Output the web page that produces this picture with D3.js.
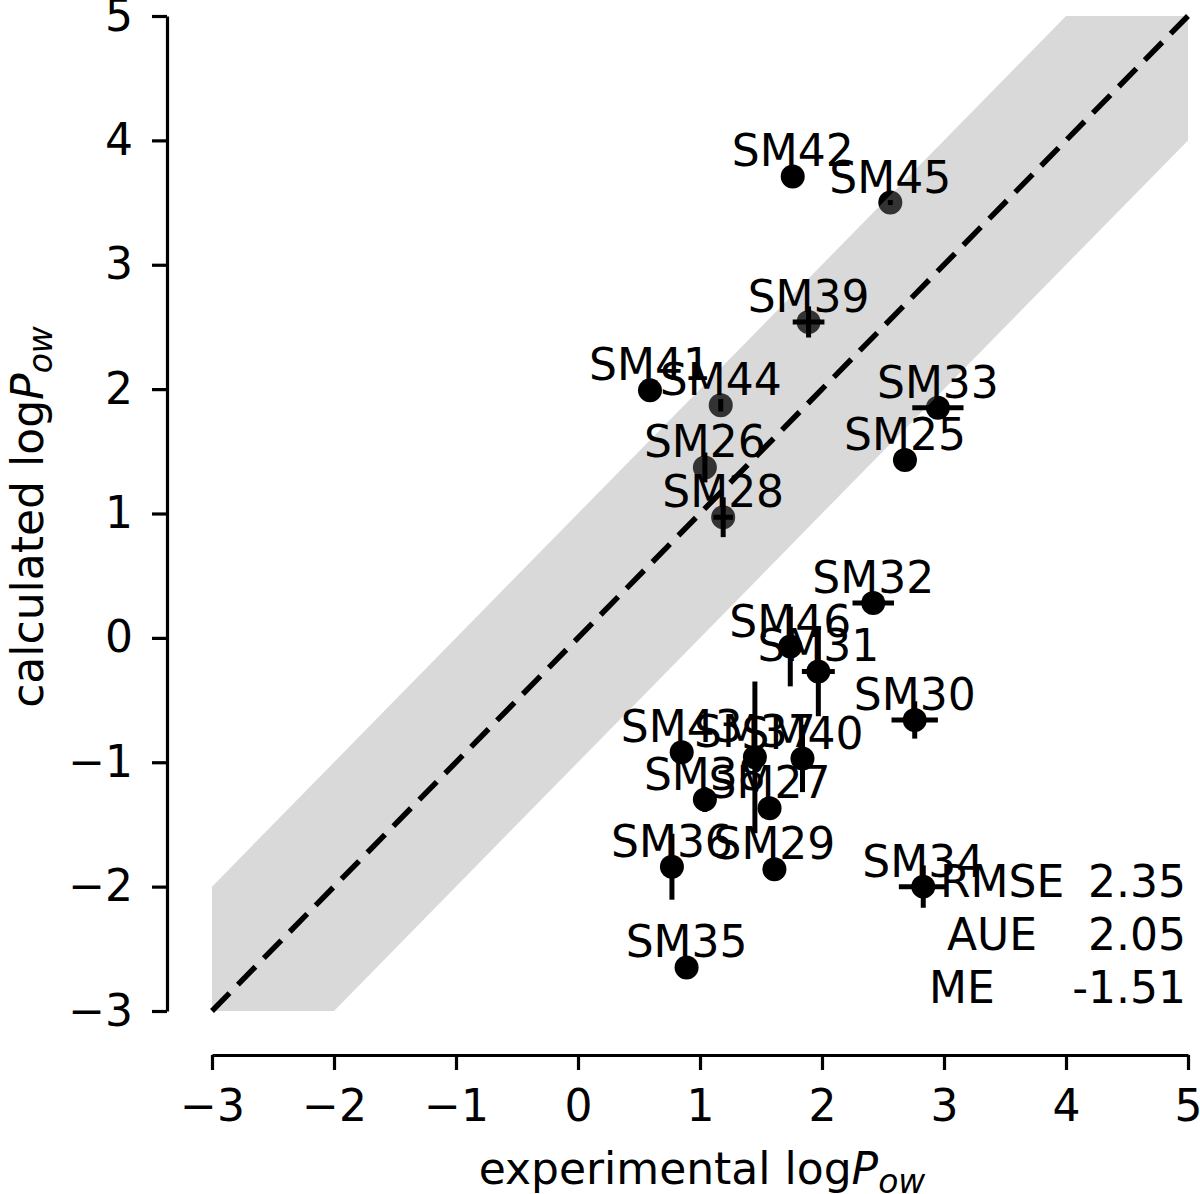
<!DOCTYPE html>
<html>
<head>
<meta charset="utf-8">
<script src="https://cdn.jsdelivr.net/npm/d3@7"></script>
<style>
  html, body { margin: 0; padding: 0; background: #fff; }
  svg { display: block; }
  text { font-family: "DejaVu Sans", sans-serif; fill: #000; }
</style>
</head>
<body>
<svg id="chart" width="1200" height="1194"></svg>
<script>
// ---- data ----
const names = ["SM25","SM26","SM27","SM28","SM29","SM30","SM31","SM32","SM33","SM34","SM35","SM36","SM37","SM38","SM39","SM40","SM41","SM42","SM43","SM44","SM45","SM46"];
const expVals  = [2.68, 1.04, 1.57, 1.19, 1.61, 2.76, 1.97, 2.42, 2.95, 2.83, 0.89, 0.77, 1.45, 1.04, 1.89, 1.84, 0.59, 1.76, 0.85, 1.17, 2.56, 1.74];
const calcVals = [1.43, 1.37, -1.37, 0.97, -1.86, -0.66, -0.27, 0.28, 1.85, -2.00, -2.65, -1.84, -0.96, -1.30, 2.54, -0.97, 1.99, 3.71, -0.92, 1.87, 3.50, -0.07];
const expErr   = [0.00, 0.00, 0.00, 0.08, 0.00, 0.19, 0.135, 0.17, 0.21, 0.20, 0.00, 0.00, 0.00, 0.00, 0.13, 0.00, 0.00, 0.00, 0.00, 0.00, 0.00, 0.00];
const calcErr  = [0.00, 0.12, 0.00, 0.16, 0.00, 0.15, 0.36, 0.00, 0.00, 0.17, 0.00, 0.265, 0.61, 0.10, 0.125, 0.27, 0.00, 0.00, 0.00, 0.05, 0.02, 0.32];
const axisTicks = [-3, -2, -1, 0, 1, 2, 3, 4, 5];
const axisDomain = [-3, 5];
const bandHalfWidth = 1;
const statLabels = ["RMSE", "AUE", "ME"];
const statValues = ["2.35", "2.05", "-1.51"];

// ---- layout ----
const svg = d3.select("#chart");
const x = d3.scaleLinear().domain(axisDomain).range([212, 1188]);
const y = d3.scaleLinear().domain(axisDomain).range([1011, 16]);
const FS = 44;

svg.append("defs").append("clipPath").attr("id", "plotclip")
  .append("rect").attr("x", x(axisDomain[0])).attr("y", y(axisDomain[1]))
  .attr("width", x(axisDomain[1]) - x(axisDomain[0]))
  .attr("height", y(axisDomain[0]) - y(axisDomain[1]));

const pts = names.map((n, i) => ({ name: n, x: expVals[i], y: calcVals[i], ex: expErr[i], ey: calcErr[i] }));

// markers (drawn beneath the band)
svg.append("g").selectAll("circle").data(pts).join("circle")
  .attr("cx", d => x(d.x)).attr("cy", d => y(d.y)).attr("r", 12)
  .attr("fill", "#000");

// band +/- 1
const bandXs = axisDomain;
const area = d3.area()
  .x(d => x(d))
  .y0(d => y(d - bandHalfWidth))
  .y1(d => y(d + bandHalfWidth));
svg.append("path").datum(bandXs)
  .attr("d", area)
  .attr("clip-path", "url(#plotclip)")
  .attr("fill", "#929292").attr("fill-opacity", 0.35);

// identity line
svg.append("line")
  .attr("x1", x(axisDomain[0])).attr("y1", y(axisDomain[0]))
  .attr("x2", x(axisDomain[1])).attr("y2", y(axisDomain[1]))
  .attr("stroke", "#000").attr("stroke-width", 5.5)
  .attr("stroke-dasharray", "25,12");

// error bars
const eb = svg.append("g").attr("stroke", "#000").attr("stroke-width", 5);
pts.filter(d => d.ex > 0).forEach(d => {
  eb.append("line").attr("x1", x(d.x - d.ex)).attr("x2", x(d.x + d.ex))
    .attr("y1", y(d.y)).attr("y2", y(d.y));
});
pts.filter(d => d.ey > 0).forEach(d => {
  eb.append("line").attr("x1", x(d.x)).attr("x2", x(d.x))
    .attr("y1", y(d.y - d.ey)).attr("y2", y(d.y + d.ey));
});

// point labels
svg.append("g").selectAll("text").data(pts).join("text")
  .attr("x", d => x(d.x)).attr("y", d => y(d.y) - 10)
  .attr("text-anchor", "middle").attr("font-size", FS)
  .text(d => d.name);

// axes
const xAxis = d3.axisBottom(x).tickValues(axisTicks).tickSize(15).tickSizeOuter(0).tickPadding(20);
const yAxis = d3.axisLeft(y).tickValues(axisTicks).tickSize(15).tickSizeOuter(0).tickPadding(19);
const gx = svg.append("g").attr("transform", "translate(0,1055)").call(xAxis);
const gy = svg.append("g").attr("transform", "translate(167,0)").call(yAxis);
[gx, gy].forEach(g => {
  g.select(".domain").attr("stroke-width", 3.2);
  g.selectAll(".tick line").attr("stroke-width", 3.2);
  g.selectAll(".tick text").attr("font-size", FS).attr("font-family", "DejaVu Sans");
});

// axis titles
const xt = svg.append("text").attr("x", 702).attr("y", 1184)
  .attr("text-anchor", "middle").attr("font-size", FS);
xt.append("tspan").text("experimental log");
xt.append("tspan").attr("font-style", "italic").text("P");
xt.append("tspan").attr("font-style", "italic").attr("font-size", 33).attr("dy", 9).text("ow");

const yt = svg.append("text").attr("transform", "translate(43,517) rotate(-90)")
  .attr("text-anchor", "middle").attr("font-size", FS);
yt.append("tspan").text("calculated log");
yt.append("tspan").attr("font-style", "italic").text("P");
yt.append("tspan").attr("font-style", "italic").attr("font-size", 33).attr("dy", 9).text("ow");

// stats
const statLabelX = [943, 950, 932];
statLabels.forEach((s, i) => {
  const by = 897 + i * 53;
  svg.append("text").attr("x", statLabelX[i] - 3).attr("y", by).attr("font-size", FS).text(s);
  svg.append("text").attr("x", 1186).attr("y", by).attr("text-anchor", "end").attr("font-size", FS).text(statValues[i]);
});
</script>
</body>
</html>
